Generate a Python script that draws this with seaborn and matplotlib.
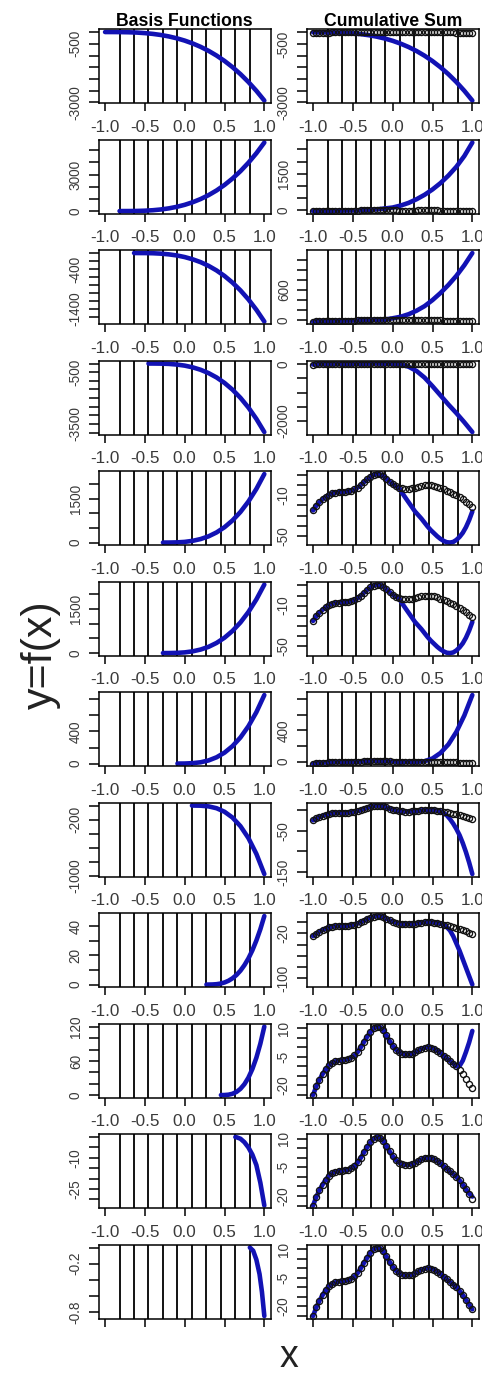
import matplotlib
matplotlib.use("Agg")
import matplotlib.pyplot as plt
import seaborn as sns

# ---------------- data ----------------
knots = [-0.818, -0.636, -0.455, -0.273, -0.091, 0.091, 0.273, 0.455, 0.636, 0.818]
x_ticks = [-1.0, -0.5, 0.0, 0.5, 1.0]
x_ticklabels = ["-1.0", "-0.5", "0.0", "0.5", "1.0"]

grid10 = [-1.0, -0.9, -0.8, -0.7, -0.6, -0.5, -0.4, -0.3, -0.2, -0.1, 0.0,
          0.1, 0.2, 0.3, 0.4, 0.5, 0.6, 0.7, 0.8, 0.9, 1.0]
grid04 = [-1.0, -0.96, -0.92, -0.88, -0.84, -0.8, -0.76, -0.72, -0.68, -0.64,
          -0.6, -0.56, -0.52, -0.48, -0.44, -0.4, -0.36, -0.32, -0.28, -0.24,
          -0.2, -0.16, -0.12, -0.08, -0.04, 0.0, 0.04, 0.08, 0.12, 0.16,
          0.2, 0.24, 0.28, 0.32, 0.36, 0.4, 0.44, 0.48, 0.52, 0.56,
          0.6, 0.64, 0.68, 0.72, 0.76, 0.8, 0.84, 0.88, 0.92, 0.96, 1.0]

# observed data (open circles)
data_y = [-25.0, -20.5, -17.0, -14.0, -11.5, -9.5, -8.2, -7.4, -7.0, -6.7,
          -6.5, -6.2, -5.5, -4.3, -2.5, 0.0, 2.8, 5.5, 8.0, 9.8,
          10.8, 10.5, 8.8, 6.2, 3.4, 0.8, -1.2, -2.6, -3.4, -3.8,
          -3.8, -3.4, -2.6, -1.7, -0.9, -0.3, 0.0, -0.2, -0.8, -1.8,
          -3.0, -4.4, -5.8, -7.2, -8.6, -10.0, -11.8, -14.0, -16.5, -19.0,
          -21.5]

# basis functions (left column)
b1_x = grid10
b1_y = [0, -0.4, -3, -10, -23, -46, -79, -125, -187, -266, -365, -486, -631,
        -802, -1002, -1232, -1495, -1793, -2129, -2504, -2920]
b2_x = [-0.818, -0.7, -0.6, -0.5, -0.4, -0.3, -0.2, -0.1, 0.0, 0.1, 0.2, 0.3,
        0.4, 0.5, 0.6, 0.7, 0.8, 0.9, 1.0]
b2_y = [0, 1.5, 10, 30, 69, 130, 221, 347, 514, 726, 990, 1312, 1696, 2149,
        2676, 3283, 3976, 4758, 5640]
b3_x = [-0.636, -0.6, -0.5, -0.4, -0.3, -0.2, -0.1, 0.0, 0.1, 0.2, 0.3, 0.4,
        0.5, 0.6, 0.7, 0.8, 0.9, 1.0]
b3_y = [0, 0, -1, -5, -15, -33, -60, -101, -157, -229, -322, -437, -576, -742,
        -937, -1163, -1424, -1720]
b4_x = [-0.455, -0.4, -0.3, -0.2, -0.1, 0.0, 0.1, 0.2, 0.3, 0.4, 0.5, 0.6,
        0.7, 0.8, 0.9, 1.0]
b4_y = [0, 0, -5, -21, -58, -121, -220, -362, -555, -805, -1123, -1513, -1986,
        -2547, -3207, -3970]
b5_x = [-0.273, -0.2, -0.1, 0.0, 0.1, 0.2, 0.3, 0.4, 0.5, 0.6, 0.7, 0.8, 0.9, 1.0]
b5_y = [0, 0.4, 6, 23, 59, 120, 213, 346, 524, 755, 1045, 1401, 1831, 2340]
b7_x = [-0.091, 0.0, 0.1, 0.2, 0.3, 0.4, 0.5, 0.6, 0.7, 0.8, 0.9, 1.0]
b7_y = [0, 0.5, 5, 16, 39, 78, 136, 217, 325, 465, 640, 854]
b8_x = [0.091, 0.2, 0.3, 0.4, 0.5, 0.6, 0.7, 0.8, 0.9, 1.0]
b8_y = [0, -2, -12, -38, -88, -170, -292, -460, -684, -970]
b9_x = [0.273, 0.3, 0.35, 0.4, 0.45, 0.5, 0.55, 0.6, 0.65, 0.7, 0.75, 0.8,
        0.85, 0.9, 0.95, 1.0]
b9_y = [0, 0, 0.06, 0.25, 0.68, 1.43, 2.6, 4.28, 6.56, 9.52, 13.3, 17.9,
        23.5, 30.2, 37.95, 47]
b10_x = [0.455, 0.5, 0.55, 0.6, 0.65, 0.7, 0.75, 0.8, 0.85, 0.9, 0.95, 1.0]
b10_y = [0, 0.07, 0.64, 2.28, 5.54, 11.0, 19.2, 30.7, 46.1, 65.9, 90.7, 121]
b11_x = [0.636, 0.65, 0.7, 0.75, 0.8, 0.85, 0.9, 0.95, 1.0]
b11_y = [0, -0.1, -0.8, -2.5, -5, -8.5, -13.5, -22, -33]
b12_x = [0.818, 0.86, 0.9, 0.94, 0.97, 1.0]
b12_y = [0, -0.04, -0.15, -0.33, -0.55, -0.85]

# cumulative sums (right column, blue line)
c2_y = [-25, -18, -12, -8, -4, 0, 8, 22, 45, 80, 120, 200, 310, 460, 640, 860,
        1120, 1430, 1790, 2230, 2780]
c3_y = [-25, -14, -9, -7, -6.5, -5, 0, 7, 11, 15, 40, 70, 120, 190, 280, 400,
        540, 700, 880, 1090, 1330]
c4_y = [-25, -14, -9, -7, -6.5, -5, 0, 7, 11, 6, 1, -20, -100, -250, -480,
        -780, -1100, -1420, -1720, -2040, -2380]
c7_y = [-25, -14, -9, -7, -6.5, -5, 0, 7, 11, 6, 1, -3, -4, -2, 5, 40, 110,
        220, 380, 590, 850]
c5_tail = [-8, -12.5, -17, -21.5, -26, -29.5, -33, -37, -41, -44.5, -47.5,
           -50.5, -53, -55, -56.3, -56.6, -56, -54, -51, -47, -41.5, -34.5, -26]
c8_tail = [-7, -13, -22, -33, -46, -61, -80, -102, -127, -155]
c9_tail = [-9, -15, -25, -38, -51, -66, -81, -96, -111]
c10_tail = [-9.8, -7, -2.5, 2.5, 8.5]
c11_tail = [-18.7, -20.3]

# y-axis ticks and which of them carry a label
left_ticks = [
    [0, -500, -1000, -1500, -2000, -2500, -3000],
    [0, 1000, 2000, 3000, 4000, 5000],
    [0, -200, -400, -600, -800, -1000, -1200, -1400, -1600],
    [0, -500, -1000, -1500, -2000, -2500, -3000, -3500, -4000],
    [0, 500, 1000, 1500, 2000],
    [0, 500, 1000, 1500, 2000],
    [0, 200, 400, 600, 800],
    [0, -200, -400, -600, -800, -1000],
    [0, 10, 20, 30, 40],
    [0, 20, 40, 60, 80, 100, 120],
    [0, -5, -10, -15, -20, -25, -30],
    [0, -0.2, -0.4, -0.6, -0.8],
]
left_labels = [[-500, -3000], [0, 3000], [-400, -1400], [-500, -3500],
               [0, 1500], [0, 1500], [0, 400], [-200, -1000], [0, 20, 40],
               [0, 60, 120], [-10, -25], [-0.2, -0.8]]
right_ticks = [
    [0, -500, -1000, -1500, -2000, -2500, -3000],
    [0, 500, 1000, 1500, 2000, 2500],
    [0, 200, 400, 600, 800, 1000, 1200],
    [0, -500, -1000, -1500, -2000],
    [10, 0, -10, -20, -30, -40, -50],
    [10, 0, -10, -20, -30, -40, -50],
    [0, 200, 400, 600, 800],
    [0, -50, -100, -150],
    [0, -20, -40, -60, -80, -100],
    [10, 5, 0, -5, -10, -15, -20, -25],
    [10, 5, 0, -5, -10, -15, -20, -25],
    [10, 5, 0, -5, -10, -15, -20, -25],
]
right_labels = [[-500, -3000], [0, 1500], [0, 600], [0, -2000], [-10, -50],
                [-10, -50], [0, 400], [-50, -150], [-20, -100], [10, -5, -20],
                [10, -5, -20], [10, -5, -20]]

basis = [(b1_x, b1_y), (b2_x, b2_y), (b3_x, b3_y), (b4_x, b4_y),
         (b5_x, b5_y), (b5_x, b5_y), (b7_x, b7_y), (b8_x, b8_y),
         (b9_x, b9_y), (b10_x, b10_y), (b11_x, b11_y), (b12_x, b12_y)]
cums = [(grid10, b1_y), (grid10, c2_y), (grid10, c3_y), (grid10, c4_y),
        (grid04, data_y[:28] + c5_tail), (grid04, data_y[:28] + c5_tail),
        (grid10, c7_y), (grid04, data_y[:41] + c8_tail),
        (grid04, data_y[:42] + c9_tail), (grid04, data_y[:46] + c10_tail),
        (grid04, data_y[:49] + c11_tail), (grid04, data_y)]

# ---------------- styling ----------------
sns.set_theme(style="white")
plt.rcParams["font.family"] = ["Liberation Sans", "DejaVu Sans"]

BLUE = "#1212b4"
TXT = "#3a3a3a"
W, H = 482, 1376
fig = plt.figure(figsize=(W / 100, H / 100), dpi=100)
fig.patch.set_facecolor("white")

col_x0 = [98.7, 306.7]
pw, ph = 172.0, 74.0
top0, pitch = 29.3, 110.5


def style_axis(ax, yt, ylab, show_xlabels):
    ax.set_xlim(-1.08, 1.08)
    ax.set_xticks(x_ticks)
    ax.set_xticklabels(x_ticklabels if show_xlabels else [""] * 5)
    ax.set_yticks(yt)
    ax.set_yticklabels([f"{v:g}" if v in ylab else "" for v in yt],
                       rotation=90, va="center")
    ax.tick_params(axis="x", bottom=True, direction="out", length=6.0,
                   width=1.1, pad=6.0, labelsize=12.3, labelcolor=TXT,
                   color="black")
    ax.tick_params(axis="y", left=True, direction="out", length=7.2,
                   width=1.1, pad=4.2, labelsize=9.8, labelcolor=TXT,
                   color="black")
    for s in ax.spines.values():
        s.set_visible(True)
        s.set_color("black")
        s.set_linewidth(1.1)
    ax.set_xlabel("")
    ax.set_ylabel("")
    ax.grid(False)


for i in range(12):
    top = top0 + pitch * i
    for j in range(2):
        ax = fig.add_axes([col_x0[j] / W, 1 - (top + ph) / H, pw / W, ph / H])
        ax.set_facecolor("white")
        for k in knots:
            ax.axvline(k, color="black", lw=1.3, zorder=1)
        if j == 0:
            xs, ys = basis[i]
            sns.lineplot(x=xs, y=ys, ax=ax, color=BLUE, linewidth=3.3,
                         estimator=None, sort=False, legend=False, zorder=2)
            allv = list(ys)
            yt, ylab = left_ticks[i], left_labels[i]
        else:
            xs, ys = cums[i]
            sns.lineplot(x=xs, y=ys, ax=ax, color=BLUE, linewidth=3.3,
                         estimator=None, sort=False, legend=False, zorder=2)
            sns.lineplot(x=grid04, y=data_y, ax=ax, linestyle="none",
                         marker="o", markersize=4.4, markerfacecolor="none",
                         markeredgecolor="#111111", markeredgewidth=0.95,
                         estimator=None, sort=False, legend=False, zorder=3)
            allv = list(ys) + list(data_y)
            yt, ylab = right_ticks[i], right_labels[i]
        lo, hi = min(allv), max(allv)
        pad = 0.04 * (hi - lo)
        ax.set_ylim(lo - pad, hi + pad)
        style_axis(ax, yt, ylab, show_xlabels=(i < 11))
        if i == 0:
            ax.set_title("Basis Functions" if j == 0 else "Cumulative Sum",
                         fontsize=12.7, fontweight="bold", pad=2.4,
                         color="black")

fig.text(41 / W, 1 - 655 / H, "y=f(x)", rotation=90, fontsize=31,
         ha="center", va="center", color="#222222")
fig.text(289 / W, 1 - 1367 / H, "x", fontsize=27, ha="center",
         va="baseline", color="#222222")

fig.savefig("out.png", dpi=100, facecolor="white")
